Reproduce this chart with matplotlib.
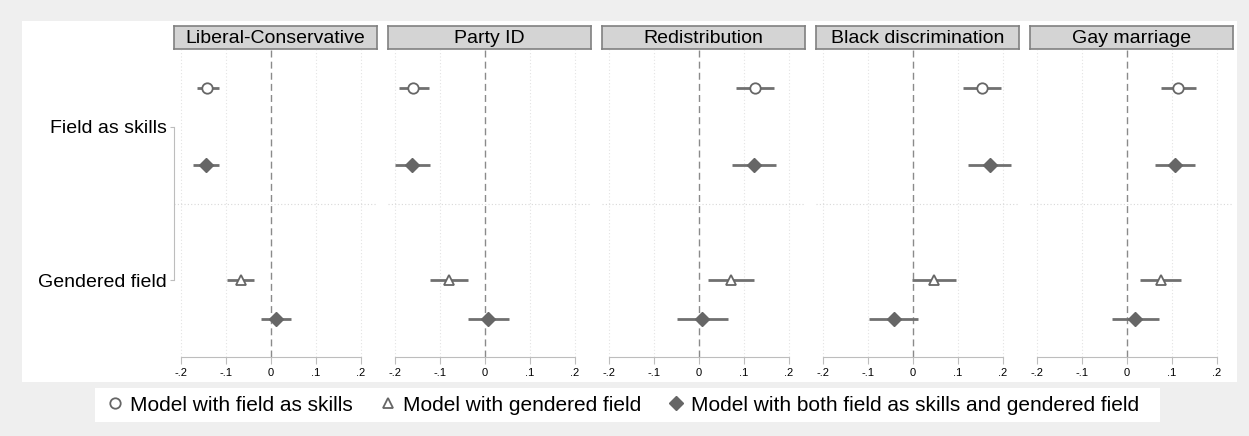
import matplotlib
matplotlib.use("Agg")
import matplotlib.pyplot as plt
from matplotlib.lines import Line2D
from matplotlib.patches import Rectangle

plt.rcParams['font.family'] = ['Liberation Sans', 'DejaVu Sans']

# data: one entry per panel
panels = ["Liberal-Conservative", "Party ID", "Redistribution", "Black discrimination", "Gay marriage"]
row_labels = ["Field as skills", "Gendered field"]

# model with field as skills (row 1 only)
skills_est = [-0.142, -0.160, 0.124, 0.154, 0.114]
skills_lo = [-0.165, -0.193, 0.082, 0.111, 0.075]
skills_hi = [-0.117, -0.125, 0.168, 0.197, 0.153]

# model with gendered field (row 2 only)
gend_est = [-0.068, -0.081, 0.071, 0.047, 0.075]
gend_lo = [-0.098, -0.122, 0.021, -0.003, 0.028]
gend_hi = [-0.038, -0.039, 0.122, 0.097, 0.121]

# model with both, row 1 and row 2
both1_est = [-0.144, -0.163, 0.122, 0.171, 0.108]
both1_lo = [-0.173, -0.200, 0.074, 0.122, 0.063]
both1_hi = [-0.117, -0.122, 0.171, 0.218, 0.152]
both2_est = [0.011, 0.007, 0.007, -0.043, 0.018]
both2_lo = [-0.022, -0.039, -0.050, -0.099, -0.034]
both2_hi = [0.045, 0.053, 0.064, 0.012, 0.071]

xticks = [-0.2, -0.1, 0, 0.1, 0.2]
xticklabels = ["-.2", "-.1", "0", ".1", ".2"]

W, H = 1249, 436
fig = plt.figure(figsize=(W / 100, H / 100), dpi=100, facecolor='#efefef')

def fx(x):
    return x / W

def fy(y):
    return 1 - y / H

# white plot region and legend box
fig.patches.append(Rectangle((fx(22), fy(382)), (1237 - 22) / W, (382 - 21) / H,
                             transform=fig.transFigure, facecolor='white', edgecolor='none', zorder=-5))
fig.patches.append(Rectangle((fx(95), fy(422)), (1160 - 95) / W, (422 - 388) / H,
                             transform=fig.transFigure, facecolor='white', edgecolor='none', zorder=-5))

mcol = '#666666'
lcol = '#707070'
off = 0.25

for i, name in enumerate(panels):
    left = 174 + 214 * i
    ax = fig.add_axes([fx(left), fy(357), 203 / W, 307 / H])
    ax.set_facecolor('none')
    ax.set_xlim(-0.2165, 0.2366)
    ax.set_ylim(2.5, 0.5)

    for t in [-0.2, -0.1, 0.1, 0.2]:
        ax.axvline(t, color='#e3e3e3', lw=0.8, ls=(0, (1, 2)), zorder=1)
    ax.axhline(1.5, color='#d8d8d8', lw=0.8, ls=(0, (1, 2)), zorder=1)
    ax.axvline(0, color='#8a8a8a', lw=1.0, ls=(0, (5, 3)), zorder=1)

    # CI lines
    ax.hlines([1 - off, 1 + off, 2, 2 + off],
              [skills_lo[i], both1_lo[i], gend_lo[i], both2_lo[i]],
              [skills_hi[i], both1_hi[i], gend_hi[i], both2_hi[i]],
              color=lcol, lw=2, zorder=2)
    ax.plot(skills_est[i], 1 - off, 'o', ms=7.5, mfc='white', mec=mcol, mew=1.3, zorder=3)
    ax.plot(gend_est[i], 2, '^', ms=7.5, mfc='white', mec=mcol, mew=1.3, zorder=3)
    ax.plot([both1_est[i], both2_est[i]], [1 + off, 2 + off], 'D', ms=7.5,
            mfc=mcol, mec=mcol, ls='none', zorder=3)

    ax.set_xticks(xticks)
    ax.set_xticklabels(xticklabels, fontsize=8)
    ax.tick_params(axis='x', length=5, color='#bdbdbd', pad=3)
    ax.spines['bottom'].set_bounds(-0.2, 0.2)
    ax.spines['bottom'].set_color('#bdbdbd')
    ax.spines['top'].set_visible(False)
    ax.spines['right'].set_visible(False)
    if i == 0:
        ax.set_yticks([1, 2])
        ax.set_yticklabels(row_labels, fontsize=14)
        ax.tick_params(axis='y', length=3, color='#bdbdbd', pad=2)
        ax.spines['left'].set_bounds(1, 2)
        ax.spines['left'].set_color('#bdbdbd')
    else:
        ax.set_yticks([])
        ax.spines['left'].set_visible(False)

    # strip title
    sax = fig.add_axes([fx(left), fy(49), 203 / W, 23 / H])
    sax.set_facecolor('#d4d4d4')
    sax.set_xticks([])
    sax.set_yticks([])
    for s in sax.spines.values():
        s.set_color('#808080')
        s.set_linewidth(1.2)
    sax.text(0.5, 0.45, name, ha='center', va='center', fontsize=14, transform=sax.transAxes)

handles = [
    Line2D([], [], marker='o', ls='none', ms=7.5, mfc='white', mec=mcol, mew=1.3),
    Line2D([], [], marker='^', ls='none', ms=7.5, mfc='white', mec=mcol, mew=1.3),
    Line2D([], [], marker='D', ls='none', ms=7.5, mfc=mcol, mec=mcol),
]
labels = ["Model with field as skills", "Model with gendered field",
          "Model with both field as skills and gendered field"]
fig.legend(handles, labels, loc='center', bbox_to_anchor=(fx(621), fy(405)), ncol=3,
           frameon=False, fontsize=15, handletextpad=0.1, columnspacing=1.1, handlelength=1.2)

fig.savefig('out.png', dpi=100, facecolor=fig.get_facecolor())
